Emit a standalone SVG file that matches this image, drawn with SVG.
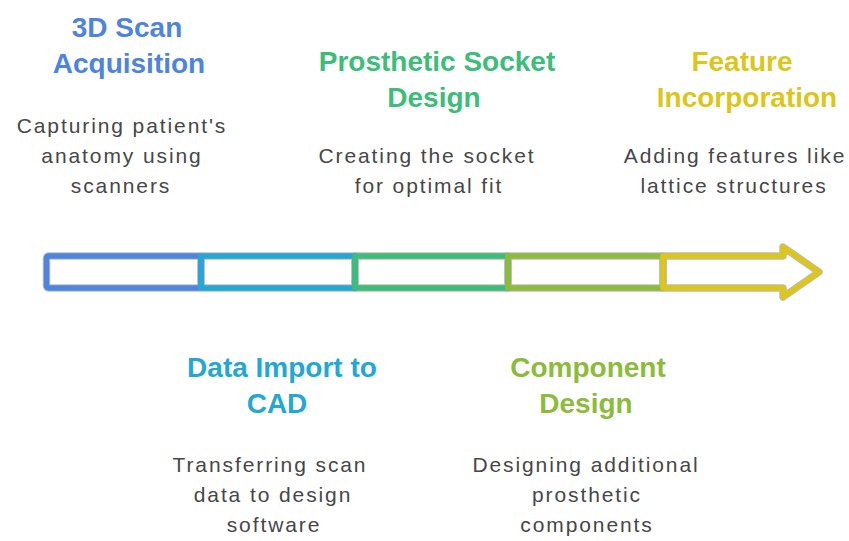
<svg xmlns="http://www.w3.org/2000/svg" width="849" height="541" viewBox="0 0 849 541">
<style>
.t{font-family:"Liberation Sans",Arial,sans-serif;font-weight:bold;font-size:28px;text-anchor:middle}
.d{font-family:"Liberation Sans",Arial,sans-serif;font-size:21px;letter-spacing:1.9px;fill:#474747;text-anchor:middle}
.g{fill:none;stroke:#bdbdbd;stroke-width:7.5;stroke-linejoin:round}
.s{fill:none;stroke-width:5.5;stroke-linejoin:round}
</style>
<rect width="849" height="541" fill="#ffffff"/>
<g id="connectors">
<g id="outline">
<rect class="g" x="46.5" y="256" width="154.5" height="32" rx="2"/>
<rect class="g" x="201" y="256" width="154" height="32"/>
<rect class="g" x="355" y="256" width="153" height="32"/>
<rect class="g" x="508" y="256" width="155" height="32"/>
<path class="g" d="M663 256 H783 V247 L819 272 L783 297 V288 H663 Z"/>
</g>
<rect class="s" x="46.5" y="256" width="154.5" height="32" rx="2" stroke="#4d84e0"/>
<rect class="s" x="201" y="256" width="154" height="32" stroke="#22a7d6"/>
<rect class="s" x="355" y="256" width="153" height="32" stroke="#3cbd79"/>
<rect class="s" x="508" y="256" width="155" height="32" stroke="#8dbb3b"/>
<path class="s" d="M663 256 H783 V247 L819 272 L783 297 V288 H663 Z" stroke="#dcc61b"/>
</g>
<g id="n1">
<text class="t" fill="#4d84e0" x="127" y="37">3D Scan</text>
<text class="t" fill="#4d84e0" x="129" y="73">Acquisition</text>
<text class="d" x="122" y="133">Capturing patient's</text>
<text class="d" x="122" y="163">anatomy using</text>
<text class="d" x="121" y="193">scanners</text>
</g>
<g id="n2">
<text class="t" fill="#22a7d6" x="282" y="377">Data Import to</text>
<text class="t" fill="#22a7d6" x="277" y="413">CAD</text>
<text class="d" x="270" y="472">Transferring scan</text>
<text class="d" x="273" y="502">data to design</text>
<text class="d" x="274" y="532">software</text>
</g>
<g id="n3">
<text class="t" fill="#3cbd79" x="437" y="71">Prosthetic Socket</text>
<text class="t" fill="#3cbd79" x="434" y="107">Design</text>
<text class="d" x="427" y="163">Creating the socket</text>
<text class="d" x="429" y="193">for optimal fit</text>
</g>
<g id="n4">
<text class="t" fill="#8dbb3b" x="588" y="377">Component</text>
<text class="t" fill="#8dbb3b" x="586" y="413">Design</text>
<text class="d" x="586" y="472">Designing additional</text>
<text class="d" x="587" y="502">prosthetic</text>
<text class="d" x="587" y="532">components</text>
</g>
<g id="n5">
<text class="t" fill="#dcc61b" x="742" y="71">Feature</text>
<text class="t" fill="#dcc61b" x="747" y="107">Incorporation</text>
<text class="d" x="735" y="163">Adding features like</text>
<text class="d" x="734" y="193">lattice structures</text>
</g>
</svg>
